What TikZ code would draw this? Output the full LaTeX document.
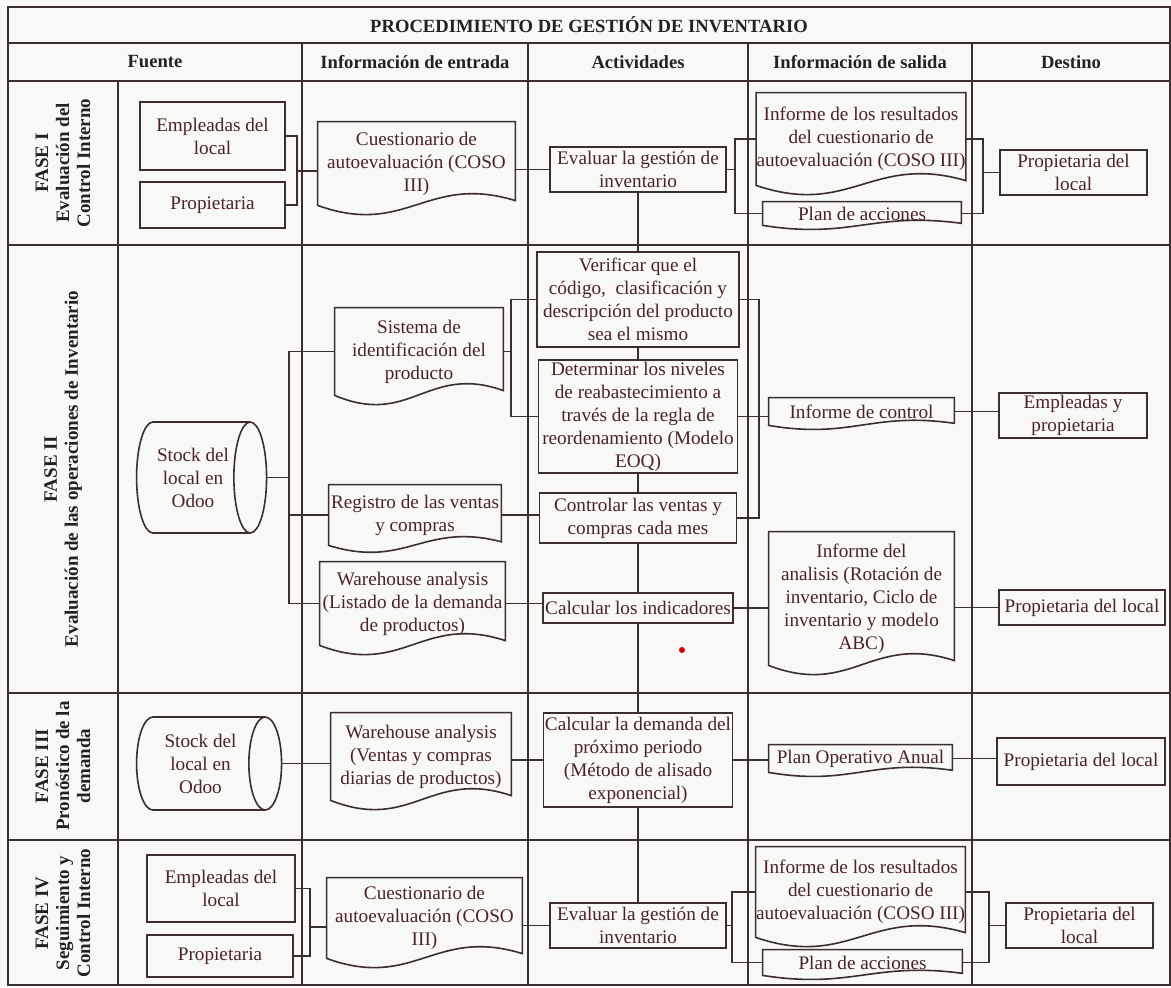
\documentclass[tikz,border=0pt]{standalone}
\usepackage{fontspec}
\setmainfont{Liberation Serif}
\usetikzlibrary{shapes.geometric,calc}
\definecolor{ln}{HTML}{3A2E2E}
\definecolor{tx}{HTML}{4A2424}
\definecolor{hd}{HTML}{222222}
\definecolor{bg}{HTML}{F8F8F6}
\newcommand\docout[2][16pt]{%
  \draw[ln, line width=0.8pt] (#2.south west) -- (#2.north west) -- (#2.north east) -- ($(#2.south east)+(0,0.15*#1)$)
  .. controls ($(#2.south west)!0.55!(#2.south east)+(0,#1)$) and ($(#2.south west)!0.45!(#2.south east)+(0,-#1)$) .. (#2.south west) -- cycle;}
\begin{document}
\begin{tikzpicture}[x=0.5pt,y=-0.5pt,
  box/.style={draw=ln, line width=0.8pt, text=tx, align=center, inner sep=0pt, font={\fontsize{9.6}{11.5}\selectfont}},
  doc/.style={draw=none, text=tx, align=center, inner sep=0pt, font={\fontsize{9.6}{11.5}\selectfont}},
  cyl/.style={cylinder, aspect=0.55, draw=ln, line width=0.8pt, text=tx, align=center, inner sep=0pt, font={\fontsize{9.6}{11.5}\selectfont}},
  conn/.style={draw=ln, line width=0.8pt},
  gridl/.style={draw=ln, line width=0.9pt},
  hdr/.style={text=hd, font={\bfseries\fontsize{9.3}{11}\selectfont}, inner sep=0pt},
  phase/.style={text=hd, rotate=90, align=center, font={\bfseries\fontsize{9.5}{10.5}\selectfont}, inner sep=0pt}]
\useasboundingbox (0,0) rectangle (1171,987);
\fill[bg] (0,0) rectangle (1171,987);
% table grid
\draw[gridl] (8,7) rectangle (1170,985);
\foreach \yy in {43,81,245,693,840} {\draw[gridl] (8,\yy) -- (1170,\yy);}
\draw[gridl] (118,81) -- (118,985);
\foreach \xx in {302,528,748,972} {\draw[gridl] (\xx,43) -- (\xx,985);}
% headers
\node[hdr] (title) at (589,25) {PROCEDIMIENTO DE GESTIÓN DE INVENTARIO};
\node[hdr] (h1) at (155,62) {Fuente};
\node[hdr] (h2) at (415,62) {Información de entrada};
\node[hdr] (h3) at (638,62) {Actividades};
\node[hdr] (h4) at (860,62) {Información de salida};
\node[hdr] (h5) at (1071,62) {Destino};
% phase labels
\node[phase] (f1) at (63,163) {FASE I\\Evaluación del\\Control Interno};
\node[phase] (f2) at (63,469) {FASE II\\Evaluación de las operaciones de Inventario};
\node[phase] (f3) at (63,766) {FASE III\\Pronóstico de la\\demanda};
\node[phase] (f4) at (63,913) {FASE IV\\Seguimiento y\\Control Interno};
% ---------- Phase I
\node[box, minimum width=72.5pt, minimum height=34pt] (emp1) at (212.5,136) {Empleadas del\\local};
\node[box, minimum width=72.5pt, minimum height=23pt] (pro1) at (212.5,205) {Propietaria};
\node[doc, minimum width=98.5pt, minimum height=41.5pt] (cue1) at (416.5,163.5) {Cuestionario de\\autoevaluación (COSO\\III)};
\node[box, minimum width=88pt, minimum height=22.5pt] (eva1) at (638,169.5) {Evaluar la gestión de\\inventario};
\node[doc, minimum width=102pt, minimum height=46pt] (inf1) at (861,139) {Informe de los resultados\\del cuestionario de\\autoevaluación (COSO III)};
\node[doc, minimum width=99pt, minimum height=11.5pt] (plan1) at (862,213.5) {Plan de acciones};
\node[box, minimum width=73.5pt, minimum height=22.5pt] (des1) at (1073.5,172.5) {Propietaria del\\local};
\docout{cue1}\docout{inf1}\docout[7pt]{plan1}
\coordinate (a1) at (297,171);
\draw[conn] (emp1.east) -| (a1) |- (pro1.east);
\draw[conn] (a1) -- (a1 -| cue1.west);
\draw[conn] (eva1.west -| cue1.east) -- (eva1.west);
\draw[conn] (eva1.east) -- (eva1.east -| 735,0);
\draw[conn] (inf1.west) -| (eva1.east -| 735,0) |- (plan1.west);
\draw[conn] (inf1.east) -| (des1.west -| 983,0) |- (plan1.east);
\draw[conn] (des1.west -| 983,0) -- (des1.west);
% ---------- Phase II
\node[cyl, minimum width=55.5pt, minimum height=65pt] (stk2) at (193,477.5) {Stock del\\local en\\Odoo};
\node[doc, minimum width=84pt, minimum height=43.5pt] (sis2) at (419,351.5) {Sistema de\\identificación del\\producto};
\node[doc, minimum width=86pt, minimum height=30pt] (reg2) at (415,515) {Registro de las ventas\\y compras};
\node[doc, minimum width=92.5pt, minimum height=41.5pt] (war2) at (412.5,603.5) {Warehouse analysis\\(Listado de la demanda\\de productos)};
\node[box, minimum width=101pt, minimum height=47.5pt] (ver2) at (638,299.5) {Verificar que el\\código,~ clasificación y\\descripción del producto\\sea el mismo};
\node[box, minimum width=99.5pt, minimum height=56.5pt] (det2) at (638,416.5) {Determinar los niveles\\de reabastecimiento a\\través de la regla de\\reordenamiento (Modelo\\EOQ)};
\node[box, minimum width=98.5pt, minimum height=25pt] (con2) at (638,518) {Controlar las ventas y\\compras cada mes};
\node[box, minimum width=95pt, minimum height=15pt] (cal2) at (638,608) {Calcular los indicadores};
\node[doc, minimum width=92.5pt, minimum height=13.5pt] (icn2) at (861.5,411.5) {Informe de control};
\node[doc, minimum width=92.5pt, minimum height=66.5pt] (ana2) at (861.5,598.5) {Informe del\\analisis (Rotación de\\inventario, Ciclo de\\inventario y modelo\\ABC)};
\node[box, minimum width=74pt, minimum height=22.5pt] (emp2) at (1073,415.5) {Empleadas y\\propietaria};
\node[box, minimum width=83pt, minimum height=17.5pt] (des2) at (1082,607.5) {Propietaria del local};
\docout{sis2}\docout[12pt]{reg2}\docout{war2}\docout[7pt]{icn2}\docout{ana2}
\draw[conn] (stk2.east) -- (stk2.east -| 289,0);
\draw[conn] (sis2.west) -| (stk2.east -| 289,0) |- (war2.west);
\draw[conn] (reg2.west -| 289,0) -- (reg2.west);
\draw[conn] (sis2.east) -- (sis2.east -| 511,0);
\draw[conn] (ver2.west) -| (sis2.east -| 511,0) |- (det2.west);
\draw[conn] (reg2.east) -- (reg2.east -| con2.west);
\draw[conn] (war2.east) -- (war2.east -| cal2.west);
\draw[conn] (ver2.east) -| (det2.east -| 759,0) |- (con2.east);
\draw[conn] (det2.east) -- (det2.east -| icn2.west);
\draw[conn] (icn2.east) -- (icn2.east -| emp2.west);
\draw[conn] (cal2.east) -- (cal2.east -| ana2.west);
\draw[conn] (des2.west -| ana2.east) -- (des2.west);
% ---------- Phase III
\node[cyl, minimum width=46.5pt, minimum height=72.5pt] (stk3) at (200.5,763.5) {Stock del\\local en\\Odoo};
\node[doc, minimum width=90pt, minimum height=43.5pt] (war3) at (421,756.5) {Warehouse analysis\\(Ventas y compras\\diarias de productos)};
\node[box, minimum width=94.5pt, minimum height=47pt] (dem3) at (638,760) {Calcular la demanda del\\próximo periodo\\(Método de alisado\\exponencial)};
\node[doc, minimum width=91.5pt, minimum height=13.5pt] (poa3) at (860.5,758.5) {Plan Operativo Anual};
\node[box, minimum width=84pt, minimum height=23.5pt] (des3) at (1081,761.5) {Propietaria del local};
\docout{war3}\docout[7pt]{poa3}
\draw[conn] (stk3.east) -- (stk3.east -| war3.west);
\draw[conn] (dem3.west -| war3.east) -- (dem3.west);
\draw[conn] (dem3.east) -- (dem3.east -| poa3.west);
\draw[conn] (poa3.east) -- (poa3.east -| des3.west);
% ---------- Phase IV
\node[box, minimum width=74pt, minimum height=33.5pt] (emp4) at (221,888.5) {Empleadas del\\local};
\node[box, minimum width=73pt, minimum height=21pt] (pro4) at (220,956) {Propietaria};
\node[doc, minimum width=97.5pt, minimum height=40pt] (cue4) at (424.5,918) {Cuestionario de\\autoevaluación (COSO\\III)};
\node[box, minimum width=88pt, minimum height=22.5pt] (eva4) at (638,925.5) {Evaluar la gestión de\\inventario};
\node[doc, minimum width=101.5pt, minimum height=45pt] (inf4) at (860.5,892) {Informe de los resultados\\del cuestionario de\\autoevaluación (COSO III)};
\node[doc, minimum width=99.5pt, minimum height=12.5pt] (plan4) at (862.5,962.5) {Plan de acciones};
\node[box, minimum width=73.5pt, minimum height=22.5pt] (des4) at (1079.5,925.5) {Propietaria del\\local};
\docout{cue4}\docout{inf4}\docout[7pt]{plan4}
\coordinate (a4) at (310,927);
\draw[conn] (emp4.east) -| (a4) |- (pro4.east);
\draw[conn] (a4) -- (a4 -| cue4.west);
\draw[conn] (eva4.west -| cue4.east) -- (eva4.west);
\draw[conn] (eva4.east) -- (eva4.east -| 732,0);
\draw[conn] (inf4.west) -| (eva4.east -| 732,0) |- (plan4.west);
\draw[conn] (inf4.east) -| (des4.west -| 989,0) |- (plan4.east);
\draw[conn] (des4.west -| 989,0) -- (des4.west);
% ---------- central activity line
\draw[conn] (eva1.south) -- (eva1.south |- ver2.north);
\draw[conn] (ver2.south) -- (ver2.south |- det2.north);
\draw[conn] (det2.south) -- (det2.south |- con2.north);
\draw[conn] (con2.south) -- (con2.south |- cal2.north);
\draw[conn] (cal2.south) -- (cal2.south |- dem3.north);
\draw[conn] (dem3.south) -- (dem3.south |- eva4.north);
% stray red dot
\fill[red!85!black] (682,650) circle (1.5pt);
\end{tikzpicture}
\end{document}
